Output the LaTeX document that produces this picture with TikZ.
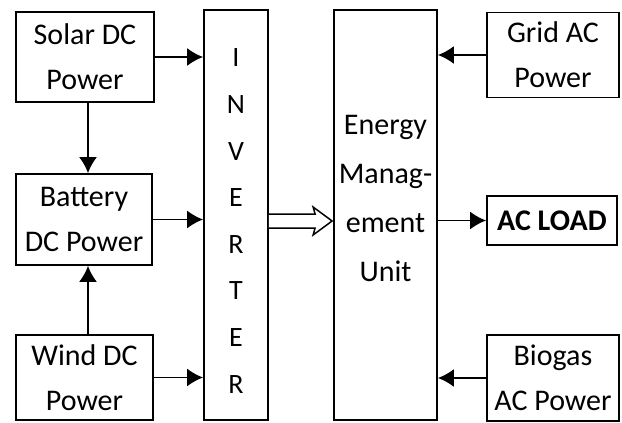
\documentclass[tikz,border=0pt]{standalone}
\usepackage{fontspec}
\setmainfont{Carlito}
\usetikzlibrary{arrows.meta,calc}
\begin{document}
\begin{tikzpicture}[x=1pt,y=-1pt,
  box/.style={draw,line width=1.8pt,align=center,inner sep=0pt,
    font=\fontsize{30}{45}\selectfont},
  txt/.style={align=center,inner sep=0pt},
  arr/.style={line width=1.8pt,-{Latex[length=16pt,width=18pt]}}]
\useasboundingbox (0,0) rectangle (622,423);
\node[box,minimum width=138,minimum height=90] (solar) at (85,57) {Solar DC\\Power};
\node[box,minimum width=136,minimum height=91] (bat) at (84,219.5) {Battery\\DC Power};
\node[box,minimum width=137,minimum height=85] (wind) at (84.5,377.5) {Wind DC\\Power};
\node[box,minimum width=64,minimum height=410] (inv) at (236,215) {};
\node[txt,font=\fontsize{28}{46.6}\selectfont] (invtext) at (236,221) {I\\N\\V\\E\\R\\T\\E\\R};
\node[box,minimum width=103,minimum height=410] (emu) at (385.5,215) {};
\node[txt,font=\fontsize{30}{49}\selectfont] (emutext) at (385.5,198) {Energy\\Manag-\\ement\\Unit};
\node[box,minimum width=132,minimum height=85] (grid) at (553,55) {Grid AC\\Power};
\node[box,minimum width=130,minimum height=49,font=\fontsize{30}{36}\bfseries] (load) at (552,220.5) {AC LOAD};
\node[box,minimum width=132,minimum height=86] (bio) at (553,378) {Biogas\\AC Power};
\draw[arr] (solar.east) -- (inv.west |- solar.east);
\draw[arr] (bat.east) -- (inv.west |- bat.east);
\draw[arr] (wind.east) -- (inv.west |- wind.east);
\draw[arr] ($(solar.south)+(3,0)$) -- ($(bat.north)+(4,0)$);
\draw[arr] ($(wind.north)+(3.5,0)$) -- ($(bat.south)+(4,0)$);
\draw[arr] (grid.west) -- (emu.east |- grid.west);
\draw[arr] (bio.west) -- (emu.east |- bio.west);
\draw[arr] (emu.east |- load.west) -- (load.west);
\draw[line width=1.5pt,line join=miter,fill=white]
  ($(inv.east)+(0,-1)$) -- ($(emu.west)+(-18,-1)$) -- ($(emu.west)+(-20,-8)$)
  -- ($(emu.west)+(-1,6)$) -- ($(emu.west)+(-20,20)$) -- ($(emu.west)+(-18,13)$)
  -- ($(inv.east)+(0,13)$);
\end{tikzpicture}
\end{document}
